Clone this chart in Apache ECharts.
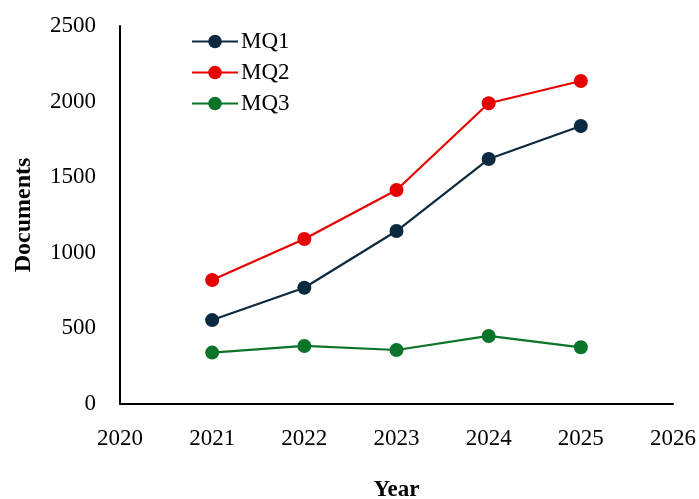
<!DOCTYPE html>
<html>
<head>
<meta charset="utf-8">
<script src="https://cdn.jsdelivr.net/npm/echarts@6/dist/echarts.min.js"></script>
<style>
  html, body { margin: 0; padding: 0; background: #fff; }
  #chart { width: 699px; height: 499px; }
</style>
</head>
<body>
<div id="chart"></div>
<script>
// Publication years and document counts per query
const years = [2021, 2022, 2023, 2024, 2025];
const mq1 = [555, 769, 1144, 1620, 1839];
const mq2 = [820, 1091, 1415, 1989, 2136];
const mq3 = [340, 384, 357, 450, 375];

const seriesNames = ['MQ1', 'MQ2', 'MQ3'];
const seriesValues = [mq1, mq2, mq3];
const seriesColors = ['#0c2a3f', '#e60000', '#0b7429'];

const FONT = '"Palatino Linotype", "Book Antiqua", Palatino, "Liberation Serif", serif';

const chart = echarts.init(document.getElementById('chart'), null, { renderer: 'canvas' });

chart.setOption({
  backgroundColor: '#ffffff',
  animation: false,
  textStyle: { fontFamily: FONT, color: '#000' },
  grid: { left: 120, right: 26, top: 26, bottom: 95, containLabel: false, outerBoundsMode: 'none' },
  legend: {
    orient: 'vertical',
    left: 191,
    top: 30,
    padding: 0,
    itemWidth: 46,
    itemHeight: 17,
    itemGap: 8,
    data: seriesNames,
    textStyle: { fontFamily: FONT, fontSize: 23, color: '#000', lineHeight: 23, padding: [0, 0, 0, -2] }
  },
  xAxis: {
    type: 'value',
    min: 2020,
    max: 2026,
    interval: 1,
    name: 'Year',
    nameLocation: 'middle',
    nameGap: 75,
    nameTextStyle: { fontFamily: FONT, fontSize: 23, fontWeight: 'bold', color: '#000' },
    axisLine: { show: true, lineStyle: { color: '#000', width: 2 } },
    axisTick: { show: false },
    splitLine: { show: false },
    axisLabel: {
      fontFamily: FONT, fontSize: 23, color: '#000', margin: 23,
      formatter: v => String(v)
    }
  },
  yAxis: {
    type: 'value',
    min: 0,
    max: 2500,
    interval: 500,
    name: 'Documents',
    nameLocation: 'middle',
    nameRotate: 90,
    nameGap: 84,
    nameTextStyle: { fontFamily: FONT, fontSize: 24, fontWeight: 'bold', color: '#000' },
    axisLine: { show: true, lineStyle: { color: '#000', width: 2 } },
    axisTick: { show: false },
    splitLine: { show: false },
    axisLabel: {
      fontFamily: FONT, fontSize: 23, color: '#000', margin: 24,
      formatter: v => String(v)
    }
  },
  series: seriesNames.map((name, i) => ({
    name,
    type: 'line',
    data: years.map((y, j) => [y, seriesValues[i][j]]),
    symbol: 'circle',
    symbolSize: 14,
    itemStyle: { color: seriesColors[i] },
    lineStyle: { color: seriesColors[i], width: 2.2 }
  }))
});
</script>
</body>
</html>
